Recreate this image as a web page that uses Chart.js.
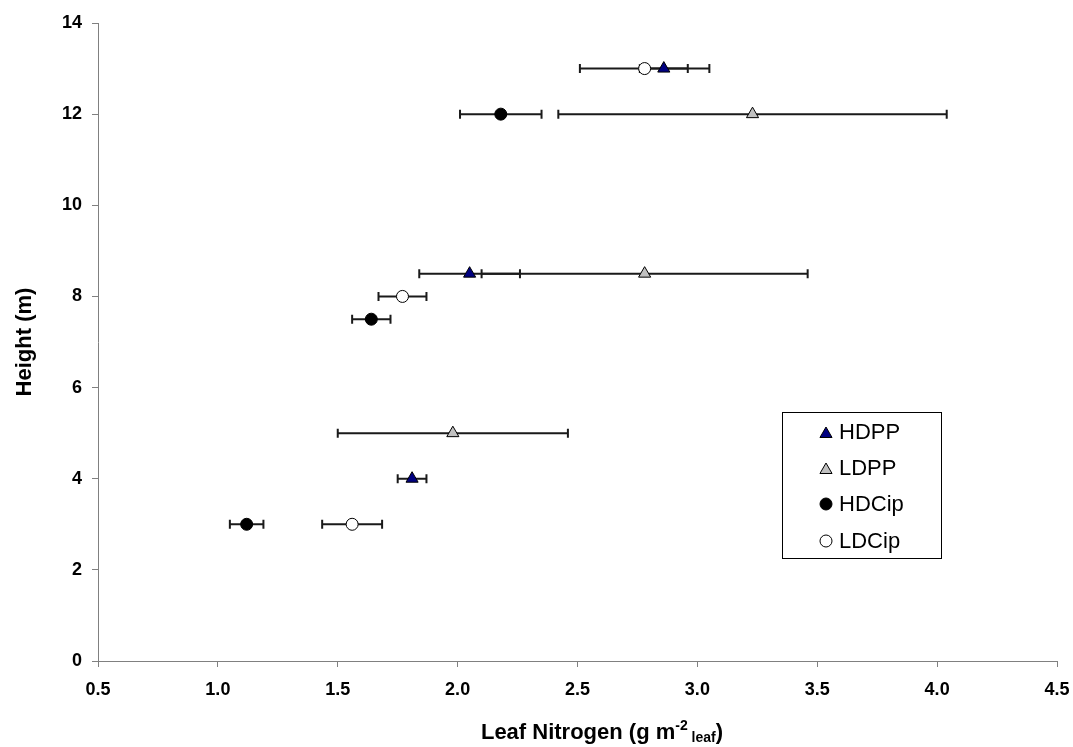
<!DOCTYPE html>
<html>
<head>
<meta charset="utf-8">
<script src="https://cdn.jsdelivr.net/npm/chart.js@4.4.1/dist/chart.umd.min.js"></script>
<style>
  html, body { margin: 0; padding: 0; background: #fff; }
  #chart { display: block; }
</style>
</head>
<body>
<canvas id="chart" width="1073" height="747"></canvas>
<script>
// Leaf nitrogen (g m-2 leaf) against canopy height (m), mean ± error
const hdppHeight = [13, 8.5, 4];
const hdppN      = [2.86, 2.05, 1.81];
const hdppErr    = [0.10, 0.21, 0.06];

const ldppHeight = [12, 8.5, 5];
const ldppN      = [3.23, 2.78, 1.98];
const ldppErr    = [0.81, 0.68, 0.48];

const hdcipHeight = [12, 7.5, 3];
const hdcipN      = [2.18, 1.64, 1.12];
const hdcipErr    = [0.17, 0.08, 0.07];

const ldcipHeight = [13, 8, 3];
const ldcipN      = [2.78, 1.77, 1.56];
const ldcipErr    = [0.27, 0.10, 0.125];

const xTickValues = [0.5, 1.0, 1.5, 2.0, 2.5, 3.0, 3.5, 4.0, 4.5];
const yTickValues = [0, 2, 4, 6, 8, 10, 12, 14];

const FONT = "'Liberation Sans', Arial, Helvetica, sans-serif";
const AXIS_GREY = '#808080';

function series(label, xs, ys, errs, style) {
    return {
        label: label,
        data: xs.map((x, i) => ({ x: x, y: ys[i], err: errs[i] })),
        showLine: false,
        borderWidth: 1,
        borderColor: '#000',
        ...style
    };
}

const datasets = [
    series('HDPP', hdppN, hdppHeight, hdppErr,
        { pointStyle: 'triangle', pointRadius: 7, backgroundColor: '#000080' }),
    series('LDPP', ldppN, ldppHeight, ldppErr,
        { pointStyle: 'triangle', pointRadius: 7, backgroundColor: '#C0C0C0' }),
    series('HDCip', hdcipN, hdcipHeight, hdcipErr,
        { pointStyle: 'circle', pointRadius: 6, backgroundColor: '#000' }),
    series('LDCip', ldcipN, ldcipHeight, ldcipErr,
        { pointStyle: 'circle', pointRadius: 6, backgroundColor: '#fff' })
];

// horizontal error bars, drawn under the markers
const errorBars = {
    id: 'errorBars',
    beforeDatasetsDraw(chart) {
        const { ctx, scales: { x, y } } = chart;
        const cap = 4.5;
        ctx.save();
        ctx.strokeStyle = '#1a1a1a';
        ctx.lineWidth = 2;
        chart.data.datasets.forEach(ds => {
            ds.data.forEach(p => {
                const py = y.getPixelForValue(p.y);
                const x0 = x.getPixelForValue(p.x - p.err);
                const x1 = x.getPixelForValue(p.x + p.err);
                ctx.beginPath();
                ctx.moveTo(x0, py); ctx.lineTo(x1, py);
                ctx.moveTo(x0, py - cap); ctx.lineTo(x0, py + cap);
                ctx.moveTo(x1, py - cap); ctx.lineTo(x1, py + cap);
                ctx.stroke();
            });
        });
        ctx.restore();
    }
};

// axis titles (with super/subscript) and the boxed legend
const decorations = {
    id: 'decorations',
    afterDraw(chart) {
        const { ctx, chartArea } = chart;
        ctx.save();
        ctx.fillStyle = '#000';

        // y title
        ctx.font = `bold 22px ${FONT}`;
        ctx.textAlign = 'center';
        ctx.textBaseline = 'middle';
        ctx.translate(25, (chartArea.top + chartArea.bottom) / 2);
        ctx.rotate(-Math.PI / 2);
        ctx.fillText('Height (m)', 0, 0);
        ctx.setTransform(1, 0, 0, 1, 0, 0);

        // x title: Leaf Nitrogen (g m^-2 _leaf)
        const parts = [
            { t: 'Leaf Nitrogen (g m', size: 22, dy: 0 },
            { t: '-2', size: 14, dy: -9 },
            { t: ' leaf', size: 14, dy: 3 },
            { t: ')', size: 22, dy: 0 }
        ];
        ctx.textAlign = 'left';
        ctx.textBaseline = 'alphabetic';
        let total = 0;
        parts.forEach(p => {
            ctx.font = `bold ${p.size}px ${FONT}`;
            p.w = ctx.measureText(p.t).width;
            total += p.w;
        });
        let tx = 602 - total / 2;
        const baseY = 739;
        parts.forEach(p => {
            ctx.font = `bold ${p.size}px ${FONT}`;
            ctx.fillText(p.t, tx, baseY + p.dy);
            tx += p.w;
        });

        // legend box
        const box = { left: 782, top: 412, right: 941, bottom: 558 };
        ctx.fillStyle = '#fff';
        ctx.fillRect(box.left, box.top, box.right - box.left, box.bottom - box.top);
        ctx.strokeStyle = '#000';
        ctx.lineWidth = 1;
        ctx.strokeRect(box.left + 0.5, box.top + 0.5, box.right - box.left, box.bottom - box.top);

        const rowY = [432, 468, 504, 541];
        ctx.font = `22px ${FONT}`;
        ctx.textBaseline = 'middle';
        chart.data.datasets.forEach((ds, i) => {
            ctx.fillStyle = ds.backgroundColor;
            ctx.strokeStyle = ds.borderColor;
            ctx.lineWidth = ds.borderWidth;
            Chart.helpers.drawPoint(ctx, {
                pointStyle: ds.pointStyle,
                radius: ds.pointRadius,
                borderWidth: ds.borderWidth
            }, 826, rowY[i] + (ds.pointStyle === 'triangle' ? 2 : 0));
            ctx.fillStyle = '#000';
            ctx.fillText(ds.label, 839, rowY[i] + 1);
        });
        ctx.restore();
    }
};

const tickFont = { family: FONT, size: 18, weight: 'bold' };

new Chart(document.getElementById('chart'), {
    type: 'scatter',
    data: { datasets: datasets },
    options: {
        responsive: false,
        devicePixelRatio: 1,
        animation: false,
        layout: { padding: { top: 23, right: 16, left: 0, bottom: 0 } },
        plugins: {
            legend: { display: false },
            tooltip: { enabled: false }
        },
        scales: {
            x: {
                type: 'linear',
                min: 0.5,
                max: 4.5,
                afterBuildTicks: s => { s.ticks = xTickValues.map(v => ({ value: v })); },
                afterFit: s => { s.height = 86; s.paddingLeft = 0; s.paddingRight = 0; },
                ticks: {
                    callback: v => Number(v).toFixed(1),
                    color: '#000',
                    font: tickFont,
                    padding: 12,
                    maxRotation: 0
                },
                grid: { drawOnChartArea: false, tickLength: 6, tickColor: AXIS_GREY },
                border: { color: AXIS_GREY, width: 1 }
            },
            y: {
                type: 'linear',
                min: 0,
                max: 14,
                afterBuildTicks: s => { s.ticks = yTickValues.map(v => ({ value: v })); },
                afterFit: s => { s.width = 98; s.paddingTop = 0; s.paddingBottom = 0; },
                ticks: {
                    callback: v => String(v),
                    color: '#000',
                    font: tickFont,
                    padding: 10
                },
                grid: { drawOnChartArea: false, tickLength: 6, tickColor: AXIS_GREY },
                border: { color: AXIS_GREY, width: 1 }
            }
        }
    },
    plugins: [errorBars, decorations]
});
</script>
</body>
</html>
